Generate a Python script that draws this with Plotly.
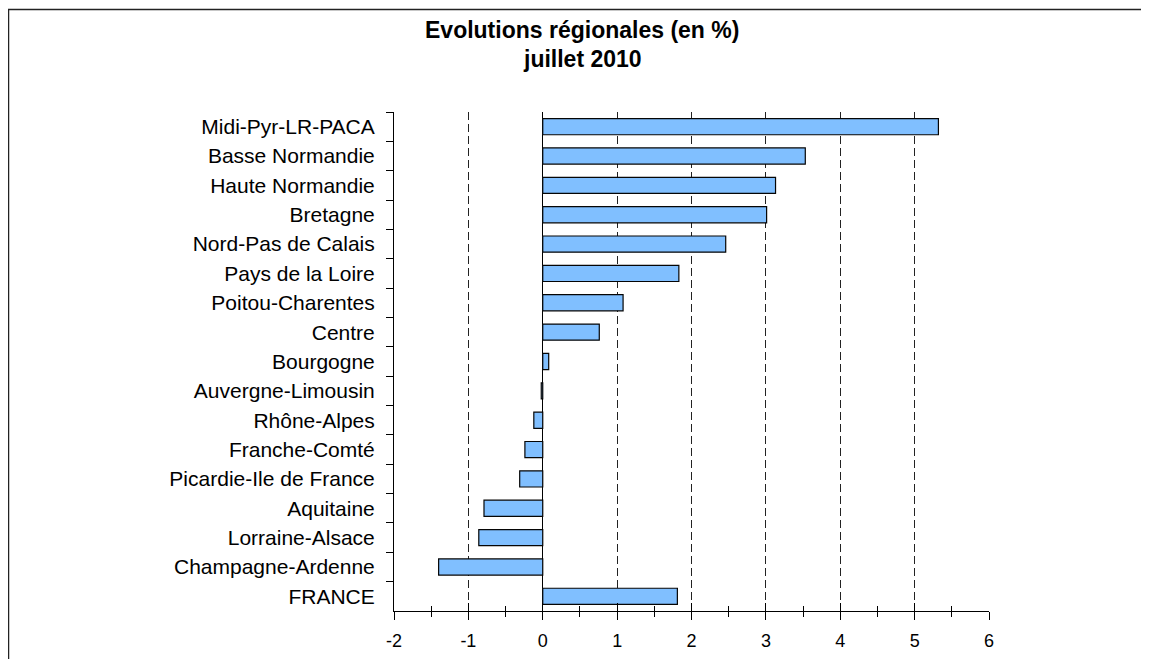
import plotly.graph_objects as go

regions = [
    "Midi-Pyr-LR-PACA", "Basse Normandie", "Haute Normandie", "Bretagne",
    "Nord-Pas de Calais", "Pays de la Loire", "Poitou-Charentes", "Centre",
    "Bourgogne", "Auvergne-Limousin", "Rhône-Alpes", "Franche-Comté",
    "Picardie-Ile de France", "Aquitaine", "Lorraine-Alsace",
    "Champagne-Ardenne", "FRANCE",
]
evolutions = [
    5.32, 3.53, 3.13, 3.01, 2.46, 1.83, 1.08, 0.76,
    0.08, -0.02, -0.12, -0.24, -0.31, -0.79, -0.86, -1.40, 1.81,
]
x_ticks = [-2, -1, 0, 1, 2, 3, 4, 5, 6]
title_lines = ["Evolutions régionales (en %)", "juillet 2010"]

FONT = "Liberation Sans, Arial, sans-serif"

fig = go.Figure()
fig.add_trace(go.Bar(
    x=evolutions, y=regions, orientation="h",
    marker=dict(color="#80BFFF", line=dict(color="#050505", width=1.2)),
    showlegend=False, hoverinfo="x+y",
))
# empty trace so the overlaid axis (crossing ticks) is drawn
fig.add_trace(go.Scatter(x=[None], y=[None], xaxis="x2", showlegend=False,
                         hoverinfo="skip"))

# page body has an 8px margin: work in window pixels, shift by OFF
OFF = 8
W, H = 1149, 659
plot_left, plot_right, plot_top, plot_bottom = 394, 989, 112, 611
L = plot_left - OFF
T = plot_top - OFF
R = W - (plot_right - OFF)
B = H - (plot_bottom - OFF)
plot_w = plot_right - plot_left
plot_h = plot_bottom - plot_top

def px_to_paper_x(px):
    return (px - plot_left) / plot_w

def py_to_paper_y(py):
    return (plot_bottom - py) / plot_h

fig.update_layout(
    width=W, height=H,
    margin=dict(l=L, r=R, t=T, b=B),
    paper_bgcolor="white", plot_bgcolor="white",
    font=dict(family=FONT, color="black", size=18),
    bargap=0.45,
    xaxis=dict(
        range=[-2, 6], tickvals=x_ticks, ticktext=[str(v) for v in x_ticks],
        showline=True, linecolor="black", linewidth=1,
        ticks="outside", ticklen=8, tickcolor="black", tickwidth=1,
        minor=dict(dtick=0.5, ticks="outside", ticklen=5,
                   tickcolor="black", showgrid=False),
        showgrid=True, gridcolor="#222222", griddash="8px,4px", gridwidth=1,
        zeroline=True, zerolinecolor="black", zerolinewidth=1,
        tickfont=dict(size=18), ticklabelstandoff=5,
        fixedrange=True,
    ),
    xaxis2=dict(
        overlaying="x", anchor="y", side="bottom", range=[-2, 6],
        tickvals=x_ticks, showticklabels=False,
        ticks="inside", ticklen=8, tickcolor="black", tickwidth=1,
        minor=dict(dtick=0.5, ticks="inside", ticklen=5,
                   tickcolor="black", showgrid=False),
        showgrid=False, zeroline=False, showline=False,
    ),
    yaxis=dict(
        type="category", autorange="reversed",
        showline=True, linecolor="black", linewidth=1,
        ticks="outside", tickson="boundaries", ticklen=7,
        tickcolor="black", tickwidth=1,
        showgrid=False, zeroline=False,
        tickfont=dict(size=21), ticklabelstandoff=14,
        fixedrange=True,
    ),
    shapes=[dict(
        type="rect", xref="paper", yref="paper",
        x0=px_to_paper_x(8.5), x1=px_to_paper_x(W + 60),
        y0=py_to_paper_y(H + 60), y1=py_to_paper_y(9.5),
        line=dict(color="#222222", width=1.5), fillcolor="rgba(0,0,0,0)",
        layer="above",
    )],
    annotations=[
        dict(text="<b>%s</b>" % title_lines[0], xref="paper", yref="paper",
             x=px_to_paper_x(582), y=py_to_paper_y(30), xanchor="center",
             yanchor="middle", showarrow=False, font=dict(size=23)),
        dict(text="<b>%s</b>" % title_lines[1], xref="paper", yref="paper",
             x=px_to_paper_x(582), y=py_to_paper_y(59), xanchor="center",
             yanchor="middle", showarrow=False, font=dict(size=23)),
    ],
)

fig.write_html("out.html")
